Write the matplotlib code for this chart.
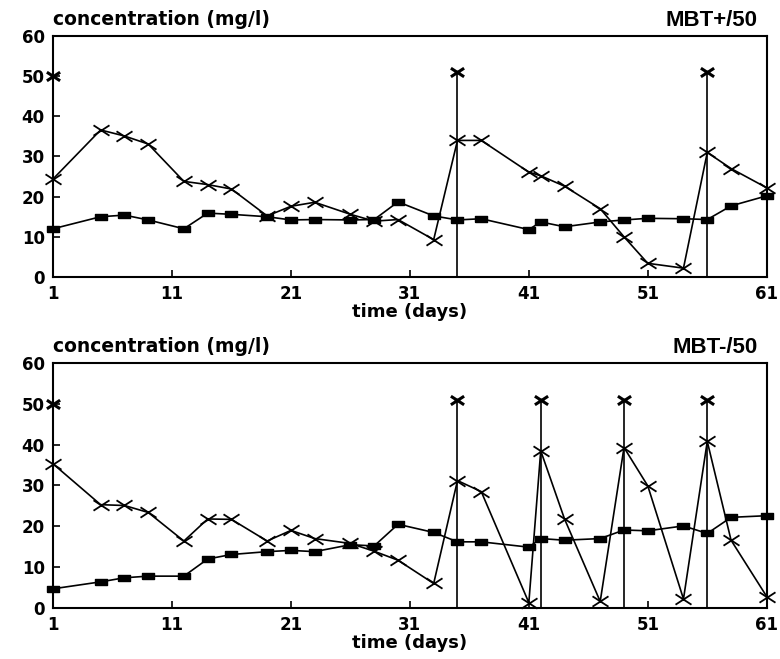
"""Concentration over time for the MBT+ and MBT- reactors (dose 50)."""

import matplotlib

matplotlib.use("Agg")
import matplotlib.pyplot as plt
from matplotlib.path import Path

DAYS = [1, 5, 7, 9, 12, 14, 16, 19, 21, 23, 26, 28, 30, 33, 35, 37,
        41, 42, 44, 47, 49, 51, 54, 56, 58, 61]

# MBT+/50
TOP_CROSS = [24.4, 36.6, 35.1, 33.1, 23.8, 23.0, 21.9, 15.2, 17.6, 18.6, 15.6, 13.9, 14.3,
             9.3, 34.0, 34.0, 26.1, 25.2, 22.6, 17.0, 10.0, 3.4, 2.2, 31.0, 27.0, 22.2]
TOP_SQUARE = [12.0, 15.0, 15.4, 14.2, 12.0, 15.9, 15.6, 15.0, 14.2, 14.3, 14.2, 14.3, 18.7,
              15.2, 14.2, 14.5, 11.8, 13.7, 12.5, 13.7, 14.2, 14.6, 14.5, 14.3, 17.7, 20.2]
TOP_DOSES = [35, 56]

# MBT-/50
BOT_CROSS = [35.3, 25.3, 25.1, 23.4, 16.4, 21.8, 21.7, 16.4, 19.0, 17.0, 15.8, 13.9, 11.7,
             6.0, 31.2, 28.5, 1.3, 38.5, 21.8, 1.6, 39.3, 29.9, 2.2, 40.8, 16.6, 2.8]
BOT_SQUARE = [4.7, 6.4, 7.4, 7.8, 7.8, 12.0, 13.1, 13.8, 14.1, 13.8, 15.5, 15.2, 20.5,
              18.5, 16.2, 16.2, 14.9, 17.0, 16.6, 17.0, 19.1, 18.9, 20.1, 18.25, 22.2, 22.6]
BOT_DOSES = [35, 42, 49, 56]

DOSE_LEVEL = 51
START_DAY = 1
START_LEVEL = 50

X_TICKS = [1, 11, 21, 31, 41, 51, 61]
Y_TICKS = [0, 10, 20, 30, 40, 50, 60]

RECT = [(-1, -0.55), (1, -0.55), (1, 0.55), (-1, 0.55), (-1, -0.55)]
WIDE_X = Path([(-1, -0.65), (1, 0.65), (-1, 0.65), (1, -0.65)],
              [Path.MOVETO, Path.LINETO, Path.MOVETO, Path.LINETO])


def draw_panel(ax, cross, square, doses, label):
    ax.plot(DAYS, square, color="black", lw=1.2, marker=RECT, ms=8,
            mfc="black", mec="black", clip_on=False, zorder=3)
    ax.plot(DAYS, cross, color="black", lw=1.2, marker=WIDE_X, ms=11.5,
            mew=1.3, mfc="none", clip_on=False, zorder=4)
    ax.vlines(doses, 0, DOSE_LEVEL, color="black", lw=1.2, zorder=2)
    ax.plot(doses, [DOSE_LEVEL] * len(doses), ls="none", marker=WIDE_X, ms=9.5,
            mew=2.2, mfc="none", color="black", zorder=5)
    ax.plot([START_DAY], [START_LEVEL], ls="none", marker=WIDE_X, ms=9.5, mew=2.2,
            mfc="none", color="black", clip_on=False, zorder=5)

    ax.set_xlim(1, 61)
    ax.set_ylim(0, 60)
    ax.set_xticks(X_TICKS)
    ax.set_yticks(Y_TICKS)
    ax.tick_params(direction="in", length=5, width=1.2, labelsize=12, pad=6)
    for lab in ax.get_xticklabels() + ax.get_yticklabels():
        lab.set_fontweight("bold")
    for spine in ax.spines.values():
        spine.set_linewidth(1.5)

    ax.text(0.0, 1.03, "concentration (mg/l)", transform=ax.transAxes,
            fontsize=13.5, fontweight="bold", ha="left", va="bottom")
    ax.text(0.987, 1.02, label, transform=ax.transAxes, fontsize=16,
            fontweight="bold", family="Liberation Sans", ha="right", va="bottom")
    ax.set_xlabel("time (days)", fontsize=13, fontweight="bold", labelpad=0)


fig = plt.figure(figsize=(7.8, 6.59), dpi=100)
ax_top = fig.add_axes([0.068, 0.5797, 0.915, 0.3657])
ax_bot = fig.add_axes([0.068, 0.0774, 0.915, 0.3718])

draw_panel(ax_top, TOP_CROSS, TOP_SQUARE, TOP_DOSES, "MBT+/50")
draw_panel(ax_bot, BOT_CROSS, BOT_SQUARE, BOT_DOSES, "MBT-/50")

fig.savefig("out.png", dpi=100)
plt.close(fig)
